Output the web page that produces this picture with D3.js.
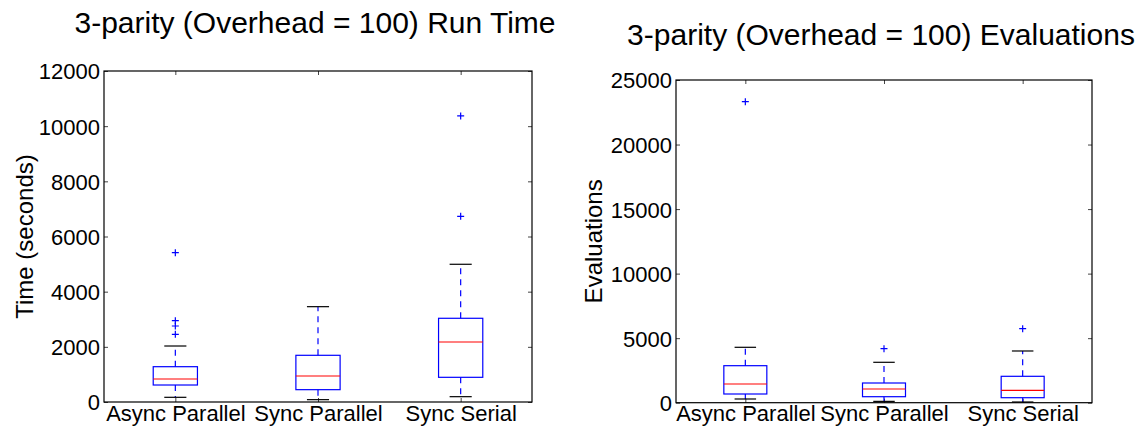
<!DOCTYPE html>
<html>
<head>
<meta charset="utf-8">
<script src="https://cdn.jsdelivr.net/npm/d3@7"></script>
<style>
  body { margin: 0; background: #fff; }
  svg { font-family: "Liberation Sans", Arial, sans-serif; }
</style>
</head>
<body>
<div id="chart"></div>
<script>
// categories shared by both panels
const categories = ["Async Parallel", "Sync Parallel", "Sync Serial"]

// run time (seconds): whisker low, q1, median, q3, whisker high
const runTimeStats = [
  [170, 616, 834, 1280, 2030],
  [85, 447, 943, 1693, 3456],
  [193, 895, 2175, 3035, 4993]
]
const runTimeOutliers = [
  [5413, 2948, 2755, 2455],
  [],
  [10370, 6733]
]
const runTimeTicks = [0, 2000, 4000, 6000, 8000, 10000, 12000]

// evaluations
const evalStats = [
  [287, 674, 1449, 2867, 4292],
  [103, 465, 1061, 1526, 3130],
  [54, 387, 961, 2045, 4006]
]
const evalOutliers = [
  [23320],
  [4184],
  [5733]
]
const evalTicks = [0, 5000, 10000, 15000, 20000, 25000]

const svg = d3.select("#chart").append("svg")
  .attr("width", 1147)
  .attr("height", 427)

function drawPanel({title, yLabel, stats, outliers, ticks, yMax, box, titleY, yLabelX}) {
  const g = svg.append("g")

  const x = d3.scaleLinear().domain([0.5, 3.5]).range([box.left, box.right])
  const y = d3.scaleLinear().domain([0, yMax]).range([box.bottom, box.top])
  const halfBox = (x(2) - x(1)) * 0.155
  const halfCap = halfBox / 2

  // title
  g.append("text")
    .attr("x", (box.left + box.right) / 2 - 3)
    .attr("y", titleY)
    .attr("text-anchor", "middle")
    .attr("font-size", 30)
    .attr("fill", "#000")
    .text(title)

  // y label
  g.append("text")
    .attr("transform", `translate(${yLabelX},${(box.top + box.bottom) / 2}) rotate(-90)`)
    .attr("text-anchor", "middle")
    .attr("font-size", 24)
    .attr("fill", "#000")
    .text(yLabel)

  // axes: left labels, inward ticks on all sides
  const left = g.append("g")
    .attr("transform", `translate(${box.left},0)`)
    .call(d3.axisLeft(y).tickValues(ticks).tickFormat(d3.format("d")).tickSize(-4).tickPadding(4))
  left.select(".domain").remove()
  left.selectAll("text").attr("font-size", 22).attr("fill", "#000").attr("dy", "0.36em")
  left.selectAll("line").attr("stroke", "#444")

  const right = g.append("g")
    .attr("transform", `translate(${box.right},0)`)
    .call(d3.axisRight(y).tickValues(ticks).tickSize(-4).tickFormat(""))
  right.select(".domain").remove()
  right.selectAll("line").attr("stroke", "#444")

  const bottom = g.append("g")
    .attr("transform", `translate(0,${box.bottom})`)
    .call(d3.axisBottom(x).tickValues([1, 2, 3]).tickFormat((d, i) => categories[i]).tickSize(-4).tickPadding(3))
  bottom.select(".domain").remove()
  bottom.selectAll("text").attr("font-size", 22).attr("fill", "#000").attr("dy", "0.71em")
  bottom.selectAll("line").attr("stroke", "#444")

  const top = g.append("g")
    .attr("transform", `translate(0,${box.top})`)
    .call(d3.axisTop(x).tickValues([1, 2, 3]).tickSize(-4).tickFormat(""))
  top.select(".domain").remove()
  top.selectAll("line").attr("stroke", "#444")

  // frame
  g.append("rect")
    .attr("x", box.left)
    .attr("y", box.top)
    .attr("width", box.right - box.left)
    .attr("height", box.bottom - box.top)
    .attr("fill", "none")
    .attr("stroke", "#000")
    .attr("stroke-width", 1.2)

  const boxes = g.append("g")
    .selectAll("g")
    .data(stats)
    .join("g")

  // whiskers
  boxes.append("line")
    .attr("x1", (d, i) => x(i + 1)).attr("x2", (d, i) => x(i + 1))
    .attr("y1", d => y(d[3])).attr("y2", d => y(d[4]))
    .attr("stroke", "#0000ff").attr("stroke-dasharray", "6,5").attr("stroke-width", 1.2)
  boxes.append("line")
    .attr("x1", (d, i) => x(i + 1)).attr("x2", (d, i) => x(i + 1))
    .attr("y1", d => y(d[1])).attr("y2", d => y(d[0]))
    .attr("stroke", "#0000ff").attr("stroke-dasharray", "6,5").attr("stroke-width", 1.2)

  // caps
  for (const k of [0, 4]) {
    boxes.append("line")
      .attr("x1", (d, i) => x(i + 1) - halfCap).attr("x2", (d, i) => x(i + 1) + halfCap)
      .attr("y1", d => y(d[k])).attr("y2", d => y(d[k]))
      .attr("stroke", "#000").attr("stroke-width", 1.2)
  }

  // box
  boxes.append("rect")
    .attr("x", (d, i) => x(i + 1) - halfBox)
    .attr("y", d => y(d[3]))
    .attr("width", halfBox * 2)
    .attr("height", d => y(d[1]) - y(d[3]))
    .attr("fill", "none")
    .attr("stroke", "#0000ff")
    .attr("stroke-width", 1.2)

  // median
  boxes.append("line")
    .attr("x1", (d, i) => x(i + 1) - halfBox).attr("x2", (d, i) => x(i + 1) + halfBox)
    .attr("y1", d => y(d[2])).attr("y2", d => y(d[2]))
    .attr("stroke", "#ff0000").attr("stroke-width", 1.2)

  // outliers as "+"
  const pts = outliers.flatMap((arr, i) => arr.map(v => [i + 1, v]))
  const s = 3.5
  g.append("g")
    .selectAll("path")
    .data(pts)
    .join("path")
      .attr("d", d => {
        const cx = x(d[0]), cy = y(d[1])
        return `M${cx - s},${cy}H${cx + s}M${cx},${cy - s}V${cy + s}`
      })
      .attr("stroke", "#0000ff")
      .attr("stroke-width", 1.2)
}

drawPanel({
  title: "3-parity (Overhead = 100) Run Time",
  yLabel: "Time (seconds)",
  stats: runTimeStats,
  outliers: runTimeOutliers,
  ticks: runTimeTicks,
  yMax: 12000,
  box: {left: 104, right: 532, top: 71, bottom: 402},
  titleY: 33,
  yLabelX: 33
})

drawPanel({
  title: "3-parity (Overhead = 100) Evaluations",
  yLabel: "Evaluations",
  stats: evalStats,
  outliers: evalOutliers,
  ticks: evalTicks,
  yMax: 25000,
  box: {left: 676, right: 1092, top: 80, bottom: 402.7},
  titleY: 45,
  yLabelX: 602
})
</script>
</body>
</html>
